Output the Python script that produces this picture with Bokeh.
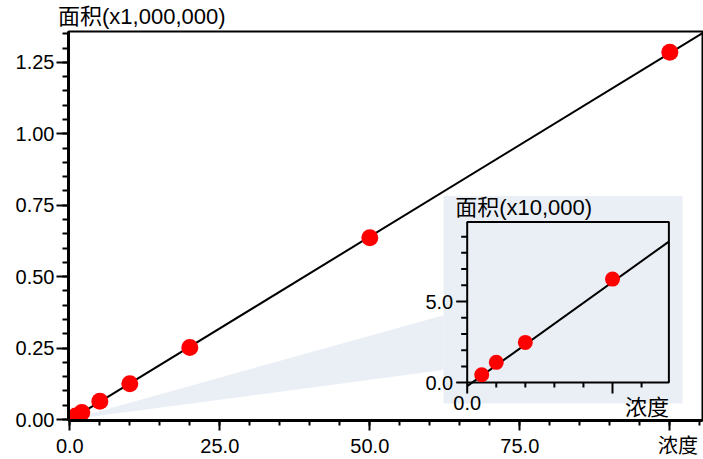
import numpy as np
from bokeh.plotting import figure
from bokeh.models import Range1d, FixedTicker, PrintfTickFormatter, LinearAxis
from bokeh.core.properties import value
from bokeh.embed import file_html
from bokeh.resources import INLINE

# ---------------- data ----------------
concentration = [0.5, 1, 2, 5, 10, 20, 50, 100]
area = [4800, 12500, 24800, 63800, 125000, 252000, 636000, 1285000]

x_major_ticks = [0, 25, 50, 75, 100]
x_minor_ticks = [0, 5, 10, 15, 20, 25, 30, 35, 40, 45, 50, 55, 60, 65, 70, 75, 80, 85, 90, 95, 100, 105]
y_major_ticks = [0.0, 0.25, 0.5, 0.75, 1.0, 1.25]
y_minor_ticks = [0.0, 0.05, 0.1, 0.15, 0.2, 0.25, 0.3, 0.35, 0.4, 0.45, 0.5, 0.55, 0.6, 0.65, 0.7,
                 0.75, 0.8, 0.85, 0.9, 0.95, 1.0, 1.05, 1.1, 1.15, 1.2, 1.25, 1.3, 1.35]

inset_x_major = [0, 5]
inset_x_minor = [1, 2, 3, 4, 6]
inset_x_labels = ["0.0", ""]
inset_y_major = [0, 5]
inset_y_minor = [1, 2, 3, 4, 6, 7, 8, 9]
inset_y_labels = ["0.0", "5.0"]

main_y_title = "面积(x1,000,000)"
inset_y_title = "面积(x10,000)"
x_title = "浓度"

MAIN_SCALE = 1e6
INSET_SCALE = 1e4

# ---------------- layout constants ----------------
X_START, X_END = -0.22, 105.45
Y_START, Y_END = -0.0035, 1.358
TITLE_ANCHOR_X = 12          # x position (main units) over which the y title is centred
INSET_X_RANGE = (-13.72, 8.097)
INSET_Y_RANGE = (-2.337, 21.648)
INSET_X_MAX, INSET_Y_MAX = 6.94, 9.9
INSET_BG = dict(left=-0.816, right=7.41, bottom=-1.29, top=11.5)
WEDGE_X = [0, 62.3, 62.3]
WEDGE_Y = [0, 0.365, 0.173]

BG = "#eaeff6"
FONT = "Liberation Sans, Noto Sans CJK SC"
NBSP = "\u00a0"

# regression line from the data
slope, intercept = np.polyfit(concentration, area, 1)

p = figure(width=703, height=459, output_backend="svg", toolbar_location=None,
           x_range=Range1d(X_START, X_END), y_range=Range1d(Y_START, Y_END),
           min_border_left=68, min_border_right=1, min_border_top=31, min_border_bottom=38)
p.extra_x_ranges = {"inset": Range1d(*INSET_X_RANGE)}
p.extra_y_ranges = {"inset": Range1d(*INSET_Y_RANGE)}

p.xgrid.grid_line_color = None
p.ygrid.grid_line_color = None
p.outline_line_color = "black"
p.outline_line_width = 2
p.background_fill_color = "white"
p.border_fill_color = "white"

for ax in (p.xaxis[0], p.yaxis[0]):
    ax.axis_line_width = 3
    ax.axis_line_color = "black"
    ax.major_tick_line_width = 2
    ax.minor_tick_line_width = 2
    ax.major_tick_line_color = "black"
    ax.minor_tick_line_color = "black"
    ax.major_tick_in = 0
    ax.minor_tick_in = 0
    ax.major_label_text_font_size = "20px"
    ax.major_label_text_font = FONT
    ax.major_label_text_color = "black"

p.xaxis.ticker = FixedTicker(ticks=x_major_ticks, minor_ticks=x_minor_ticks)
p.xaxis.formatter = PrintfTickFormatter(format="%.1f")
# the last major tick carries the x-axis title, as in the reference
p.xaxis.major_label_overrides = {x_major_ticks[-1]: NBSP * 3 + x_title}
p.xaxis.major_tick_out = 10
p.xaxis.minor_tick_out = 5
p.xaxis.major_label_standoff = 4

p.yaxis.ticker = FixedTicker(ticks=y_major_ticks, minor_ticks=y_minor_ticks)
p.yaxis.formatter = PrintfTickFormatter(format="%.2f")
p.yaxis.major_tick_out = 12
p.yaxis.minor_tick_out = 6
p.yaxis.major_label_standoff = 2

# y-axis title drawn above the frame as the only label of a bare top axis
title_axis = LinearAxis(ticker=FixedTicker(ticks=[TITLE_ANCHOR_X], minor_ticks=[]),
                        major_label_overrides={TITLE_ANCHOR_X: main_y_title},
                        axis_line_color=None, major_tick_line_color=None,
                        minor_tick_line_color=None, major_tick_out=0, major_tick_in=0,
                        major_label_standoff=3, major_label_text_font=FONT,
                        major_label_text_font_size="22px", major_label_text_color="black")
p.add_layout(title_axis, "above")

# zoom wedge
p.patch(WEDGE_X, WEDGE_Y, fill_color=BG, line_color=None)

# main line & points
main_area = [a / MAIN_SCALE for a in area]
lx = [0, X_END]
p.line(lx, [(slope * x + intercept) / MAIN_SCALE for x in lx], line_color="black", line_width=2)
p.scatter(concentration, main_area, size=17, fill_color="red", line_color=None)

# ---------------- inset ----------------
kw = dict(x_range_name="inset", y_range_name="inset")
p.quad(fill_color=BG, line_color=None, **INSET_BG, **kw)
p.quad(left=0, right=INSET_X_MAX, bottom=0, top=INSET_Y_MAX, fill_color=None,
       line_color="black", line_width=2, **kw)

ix = [0, INSET_X_MAX]
p.line(ix, [(slope * x + intercept) / INSET_SCALE for x in ix], line_color="black", line_width=2, **kw)
sel = [i for i, c in enumerate(concentration) if c <= INSET_X_MAX]
p.scatter([concentration[i] for i in sel], [area[i] / INSET_SCALE for i in sel], size=15,
          fill_color="red", line_color=None, **kw)

# inset ticks
p.ray(x=[0] * len(inset_y_major), y=inset_y_major, length=11, length_units="screen", angle=np.pi,
      line_color="black", line_width=2, **kw)
p.ray(x=[0] * len(inset_y_minor), y=inset_y_minor, length=6, length_units="screen", angle=np.pi,
      line_color="black", line_width=2, **kw)
p.ray(x=inset_x_major, y=[0] * len(inset_x_major), length=11, length_units="screen", angle=-np.pi / 2,
      line_color="black", line_width=2, **kw)
p.ray(x=inset_x_minor, y=[0] * len(inset_x_minor), length=5, length_units="screen", angle=-np.pi / 2,
      line_color="black", line_width=2, **kw)

# inset tick labels and titles
p.text(x=[0] * len(inset_y_major), y=inset_y_major, text=inset_y_labels, x_offset=-14,
       text_align="right", text_baseline="middle", text_font=value(FONT),
       text_font_size=value("20px"), text_color="black", **kw)
p.text(x=inset_x_major, y=[0] * len(inset_x_major), text=inset_x_labels, y_offset=13,
       text_align="center", text_baseline="top", text_font=value(FONT),
       text_font_size=value("20px"), text_color="black", **kw)
p.text(x=[0], y=[INSET_Y_MAX], text=[inset_y_title], x_offset=-12, y_offset=-2,
       text_align="left", text_baseline="bottom", text_font=value(FONT),
       text_font_size=value("22px"), text_color="black", **kw)
p.text(x=[INSET_X_MAX], y=[0], text=[x_title], x_offset=0, y_offset=12,
       text_align="right", text_baseline="top", text_font=value(FONT),
       text_font_size=value("22px"), text_color="black", **kw)

open("out.html", "w").write(file_html(p, INLINE))
